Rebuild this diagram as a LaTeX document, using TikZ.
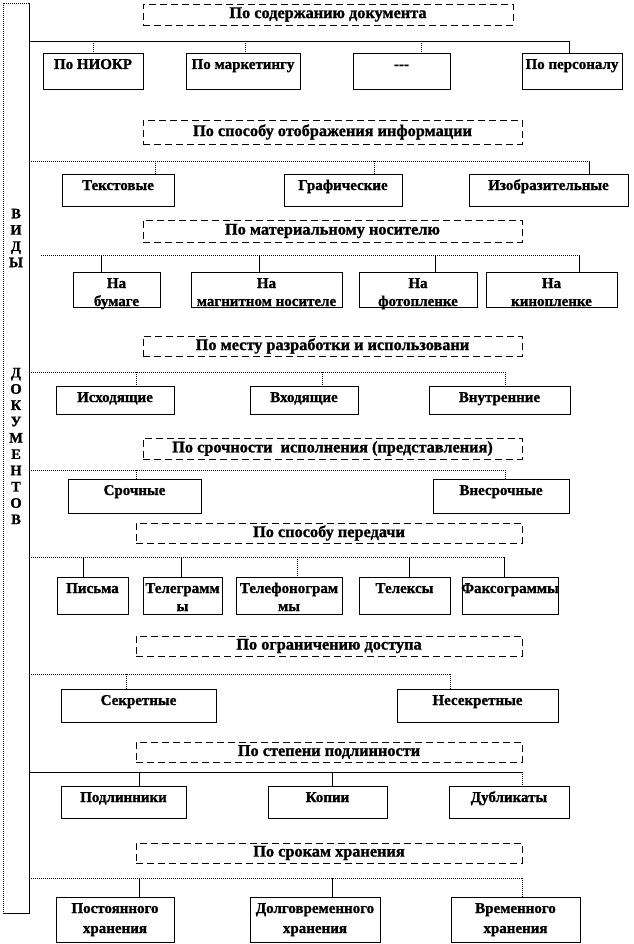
\documentclass[tikz,border=0pt]{standalone}
\usepackage{fontspec}
\setmainfont{Liberation Serif}[BoldFeatures={FakeBold=1.2}]
\newcommand{\hd}[6]{\node[hdr, anchor=north west, minimum width={#4-#2}, minimum height={#5-#3}] (#1) at (#2,#3) {#6};}
\newcommand{\kb}[7]{%
  \node[cbox, anchor=north west, minimum width={#4-#2}, minimum height={#5-#3}] (#1) at (#2,#3) {};
  \node[ctext, font=\bfseries\fontsize{15}{#7}\selectfont, anchor=north] (#1t) at ([yshift=-5pt]#1.north) {\rule{0pt}{11pt}#6};}
\newcommand{\drop}[4]{\draw[#1] (#2,#3) -- (#2,#3 |- #4.north);}
\begin{document}
\begin{tikzpicture}[x=1pt,y=-1pt,
 solidl/.style={draw=black, line width=0.9pt},
 dotl/.style={draw=black, line width=0.9pt, dash pattern=on 1pt off 1pt},
 hdr/.style={draw=black, line width=0.9pt, dash pattern=on 7pt off 4pt, inner sep=0pt, outer sep=0pt, font=\bfseries\fontsize{16.3}{18}\selectfont},
 cbox/.style={draw=black, line width=0.9pt, inner sep=0pt, outer sep=0pt},
 ctext/.style={inner sep=0pt, outer sep=0pt, align=center},
 bartext/.style={inner sep=0pt, align=center, font=\bfseries\fontsize{14.5}{16.3}\selectfont}]
\fill[white] (0,0) rectangle (633,944);
\useasboundingbox (0,0) rectangle (633,944);

% left bar
\node[inner sep=0pt, outer sep=0pt, anchor=north west, minimum width=26, minimum height=910] (bar) at (3,3) {};
\draw[dotl] (bar.north east) -- (bar.north west) -- (bar.south west);
\draw[solidl] (bar.north east) -- (bar.south east) -- (bar.south west);
\node[bartext] (vidy) at (16,238) {В\\И\\Д\\Ы};
\node[bartext] (dok) at (16,446) {Д\\О\\К\\У\\М\\Е\\Н\\Т\\О\\В};

% row 1
\hd{h1}{143}{4}{513}{25}{По содержанию документа}
\kb{b11}{43}{53}{143}{89}{По НИОКР}{18}
\kb{b12}{186}{53}{300}{89}{По маркетингу}{18}
\kb{b13}{353}{53}{450}{89}{-{}-{}-}{18}
\kb{b14}{522}{53}{622}{89}{По персоналу}{18}
\draw[solidl] (bar.east |- 0,41) -- (569,41);
\drop{dotl}{93}{41}{b11}
\drop{dotl}{245}{41}{b12}
\drop{dotl}{421}{41}{b13}
\drop{solidl}{569}{41}{b14}

% row 2
\hd{h2}{143}{120}{522}{144}{По способу отображения информации}
\kb{b21}{62}{174}{174}{206}{Текстовые}{18}
\kb{b22}{284}{174}{402}{206}{Графические}{18}
\kb{b23}{469}{174}{628}{206}{Изобразительные}{18}
\draw[dotl] (bar.east |- 0,161) -- (589,161);
\drop{dotl}{155}{161}{b21}
\drop{dotl}{374}{161}{b22}
\drop{solidl}{589}{161}{b23}

% row 3
\hd{h3}{143}{220}{522}{242}{По материальному носителю}
\kb{b31}{73}{272}{160}{307}{На\\бумаге}{18}
\kb{b32}{191}{272}{342}{307}{На\\магнитном носителе}{18}
\kb{b33}{359}{272}{477}{307}{На\\фотопленке}{18}
\kb{b34}{486}{272}{617}{307}{На\\кинопленке}{18}
\coordinate (s3) at (41,255);
\draw[dotl] (s3) -- (579,255);
\drop{solidl}{101}{255}{b31}
\drop{solidl}{259}{255}{b32}
\drop{solidl}{435}{255}{b33}
\drop{solidl}{579}{255}{b34}

% row 4
\hd{h4}{143}{336}{522}{356}{По месту разработки и использовани}
\kb{b41}{56}{386}{174}{414}{Исходящие}{18}
\kb{b42}{250}{386}{358}{414}{Входящие}{18}
\kb{b43}{429}{386}{570}{414}{Внутренние}{18}
\draw[dotl] (bar.east |- 0,372) -- (505,372);
\drop{dotl}{136}{372}{b41}
\drop{dotl}{322}{372}{b42}
\drop{dotl}{505}{372}{b43}

% row 5
\hd{h5}{143}{438}{522}{459}{По срочности\ \ исполнения (представления)}
\kb{b51}{68}{479}{201}{513}{Срочные}{18}
\kb{b52}{433}{479}{569}{513}{Внесрочные}{18}
\draw[dotl] (bar.east |- 0,470) -- (505,470);
\drop{dotl}{136}{470}{b51}
\drop{dotl}{505}{470}{b52}

% row 6
\hd{h6}{136}{523}{522}{543}{По способу передачи}
\kb{b61}{57}{577}{128}{614}{Письма}{18}
\kb{b62}{143}{577}{222}{614}{Телеграмм\\ы}{18}
\kb{b63}{236}{577}{342}{614}{Телефонограм\\мы}{18}
\kb{b64}{359}{577}{450}{614}{Телексы}{18}
\kb{b65}{462}{577}{558}{614}{Факсограммы}{18}
\draw[dotl] (bar.east |- 0,557) -- (504,557);
\drop{solidl}{83}{557}{b61}
\drop{solidl}{181}{557}{b62}
\drop{dotl}{297}{557}{b63}
\drop{solidl}{409}{557}{b64}
\drop{solidl}{504}{557}{b65}

% row 7
\hd{h7}{136}{636}{522}{656}{По ограничению доступа}
\kb{b71}{61}{689}{216}{722}{Секретные}{18}
\kb{b72}{397}{689}{558}{722}{Несекретные}{18}
\draw[dotl] (bar.east |- 0,674) -- (450,674);
\drop{dotl}{126}{674}{b71}
\drop{dotl}{450}{674}{b72}

% row 8
\hd{h8}{136}{742}{522}{762}{По степени подлинности}
\kb{b81}{61}{786}{186}{818}{Подлинники}{18}
\kb{b82}{268}{786}{387}{818}{Копии}{18}
\kb{b83}{449}{786}{569}{818}{Дубликаты}{18}
\draw[solidl] (bar.east |- 0,772) -- (522,772);
\drop{solidl}{139}{772}{b81}
\drop{solidl}{332}{772}{b82}
\drop{dotl}{522}{772}{b83}

% row 9
\hd{h9}{136}{843}{522}{863}{По срокам хранения}
\kb{b91}{56}{897}{174}{942}{Постоянного\\хранения}{20}
\kb{b92}{250}{897}{380}{942}{Долговременного\\хранения}{20}
\kb{b93}{451}{897}{580}{942}{Временного\\хранения}{20}
\draw[dotl] (bar.east |- 0,878) -- (522,878);
\drop{solidl}{139}{878}{b91}
\drop{solidl}{332}{878}{b92}
\drop{dotl}{522}{878}{b93}
\end{tikzpicture}
\end{document}
